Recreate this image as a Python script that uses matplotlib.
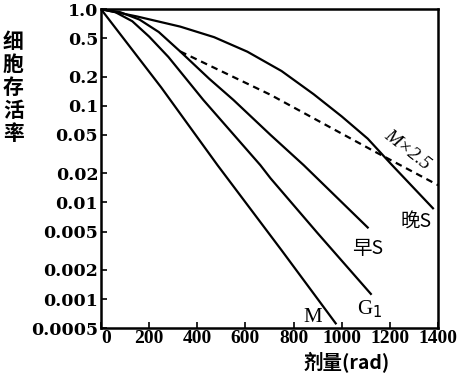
import matplotlib
matplotlib.use('Agg')
import matplotlib.pyplot as plt
from matplotlib.ticker import FixedLocator, NullLocator, NullFormatter

# dose (rad) and survival values
m_dose = [0, 250, 484, 750, 975]
m_surv = [1.0, 0.155, 0.0243, 0.0032, 0.00056]

g1_dose = [0, 60, 130, 200, 280, 425, 662, 704, 900, 1121]
g1_surv = [1.0, 0.93, 0.75, 0.52, 0.32, 0.115, 0.0243, 0.0178, 0.0048, 0.00113]

es_dose = [0, 80, 160, 240, 329, 450, 550, 704, 842, 1108]
es_surv = [1.0, 0.93, 0.78, 0.58, 0.365, 0.19, 0.115, 0.05, 0.0243, 0.0055]

ls_dose = [0, 150, 329, 470, 608, 750, 883, 1000, 1108, 1204, 1379]
ls_surv = [1.0, 0.84, 0.66, 0.513, 0.363, 0.229, 0.132, 0.0776, 0.0457, 0.0251, 0.0087]

m25_dose = [329, 704, 1133, 1400]
m25_surv = [0.365, 0.13, 0.034, 0.0151]

y_ticks = [1.0, 0.5, 0.2, 0.1, 0.05, 0.02, 0.01, 0.005, 0.002, 0.001, 0.0005]
y_labels = ['1.0', '0.5', '0.2', '0.1', '0.05', '0.02', '0.01', '0.005', '0.002', '0.001', '0.0005']
x_ticks = [0, 200, 400, 600, 800, 1000, 1200, 1400]

serif = ['Liberation Serif', 'DejaVu Serif']
cjk = ['Noto Sans CJK SC', 'DejaVu Sans']

fig = plt.figure(figsize=(4.72, 3.82), dpi=100)
ax = fig.add_axes([0.214, 0.141, 0.714, 0.835])

lw = 1.6
ax.plot(m_dose, m_surv, c='black', lw=lw)
ax.plot(g1_dose, g1_surv, c='black', lw=lw)
ax.plot(es_dose, es_surv, c='black', lw=lw)
ax.plot(ls_dose, ls_surv, c='black', lw=lw)
ax.plot(m25_dose, m25_surv, c='black', lw=lw, ls=(0, (3, 2.2)))

ax.set_yscale('log')
ax.set_xlim(0, 1400)
ax.set_ylim(0.0005, 1.0)
ax.yaxis.set_major_locator(FixedLocator(y_ticks))
ax.yaxis.set_minor_locator(NullLocator())
ax.yaxis.set_minor_formatter(NullFormatter())
ax.set_yticklabels(y_labels, family='DejaVu Serif', fontsize=12.5, fontweight='bold')
ax.set_xticks(x_ticks)
xl = ax.set_xticklabels([str(t) for t in x_ticks], family=serif, fontsize=14, fontweight='bold')
xl[0].set_ha('left')  # the "0" sits just right of the axis, as in the original
ax.tick_params(direction='in', length=4, width=1.2, pad=1)
ax.tick_params(axis='y', pad=2)
for s in ax.spines.values():
    s.set_linewidth(1.8)

ax.text(880, 0.00064, 'M', family=serif, fontsize=15, ha='center', va='center')
ax.text(1117, 0.00079, 'G$_1$', family=serif, fontsize=15, ha='center', va='center')
ax.text(1108, 0.0033, '早S', family=cjk, fontsize=14, ha='center', va='center')
ax.text(1308, 0.0063, '晚S', family=cjk, fontsize=14, ha='center', va='center')
ax.text(1270, 0.035, 'M×2.5', family=serif, fontsize=14, style='italic',
        ha='center', va='center', rotation=-38)

fig.text(0.028, 0.77, '细\n胞\n存\n活\n率', family=cjk, fontsize=15, fontweight='bold',
         ha='center', va='center', linespacing=1.12)
fig.text(0.735, 0.05, '剂量(rad)', family=cjk, fontsize=14, fontweight='bold',
         ha='center', va='center')

plt.savefig('out.png', dpi=100)
